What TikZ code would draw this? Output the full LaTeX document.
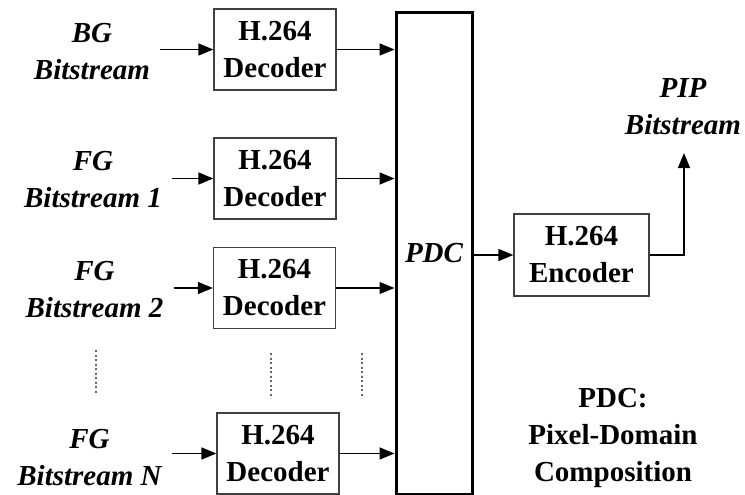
\documentclass[tikz,border=0pt]{standalone}
\usepackage{fontspec}
\setmainfont{Liberation Serif}
\usetikzlibrary{arrows.meta}

\begin{document}
\begin{tikzpicture}[x=1pt,y=-1pt,
  codec/.style={draw=black!75,line width=1.3pt,minimum width=122pt,minimum height=81pt,
    align=center,inner sep=0pt,font=\fontsize{29}{37}\selectfont\bfseries},
  src/.style={align=center,inner sep=10pt,font=\fontsize{29}{37}\selectfont\bfseries\itshape},
  arr/.style={line width=1.6pt,-{Triangle[length=15pt,width=12pt]}},
  dots/.style={black!60,line width=1.3pt,dash pattern=on 2pt off 2.5pt}]
  \useasboundingbox (0,0) rectangle (745,495);
  % inputs
  \node[src] (bg)  at (92,52)    {BG\\Bitstream};
  \node[src] (fg1) at (93,180)   {FG\\Bitstream 1};
  \node[src] (fg2) at (94.5,290) {FG\\Bitstream 2};
  \node[src] (fgn) at (89.5,457.5) {FG\\Bitstream N};
  % decoders
  \node[codec] (dec1) at (275,49.5)  {H.264\\Decoder};
  \node[codec] (dec2) at (275,178.5) {H.264\\Decoder};
  \node[codec] (dec3) at (274.5,288) {H.264\\Decoder};
  \node[codec] (decn) at (278,453.5) {H.264\\Decoder};
  % composition and encoder
  \node[draw,line width=3pt,minimum width=76pt,minimum height=481pt,inner sep=0pt,
    font=\fontsize{29}{37}\selectfont\bfseries\itshape] (pdc) at (434,253.5) {PDC};
  \node[codec,minimum width=135pt,minimum height=82pt] (enc) at (581.5,255) {H.264\\Encoder};
  \coordinate (pipin) at (684,153);
  \node[src,inner sep=0pt] (pip) at (683,107) {PIP\\Bitstream};
  \node[align=center,font=\fontsize{29}{37}\selectfont\bfseries] (legend) at (613,438)
    {PDC:\\Pixel-Domain\\Composition};
  % arrows
  \draw[arr] (bg.east |- dec1) -- (dec1);
  \draw[arr] (fg1.east |- dec2) -- (dec2);
  \draw[arr] (fg2.east |- dec3) -- (dec3);
  \draw[arr] (fgn.east |- decn) -- (decn);
  \draw[arr] (dec1) -- (dec1 -| pdc.west);
  \draw[arr] (dec2) -- (dec2 -| pdc.west);
  \draw[arr] (dec3) -- (dec3 -| pdc.west);
  \draw[arr] (decn) -- (decn -| pdc.west);
  \draw[arr] (pdc.east |- enc) -- (enc);
  \draw[arr] (enc) -| (pipin);
  % dots
  \draw[dots] (96,350) -- (96,395);
  \draw[dots] (271,353) -- (271,398);
  \draw[dots] (362,353) -- (362,398);
\end{tikzpicture}
\end{document}
